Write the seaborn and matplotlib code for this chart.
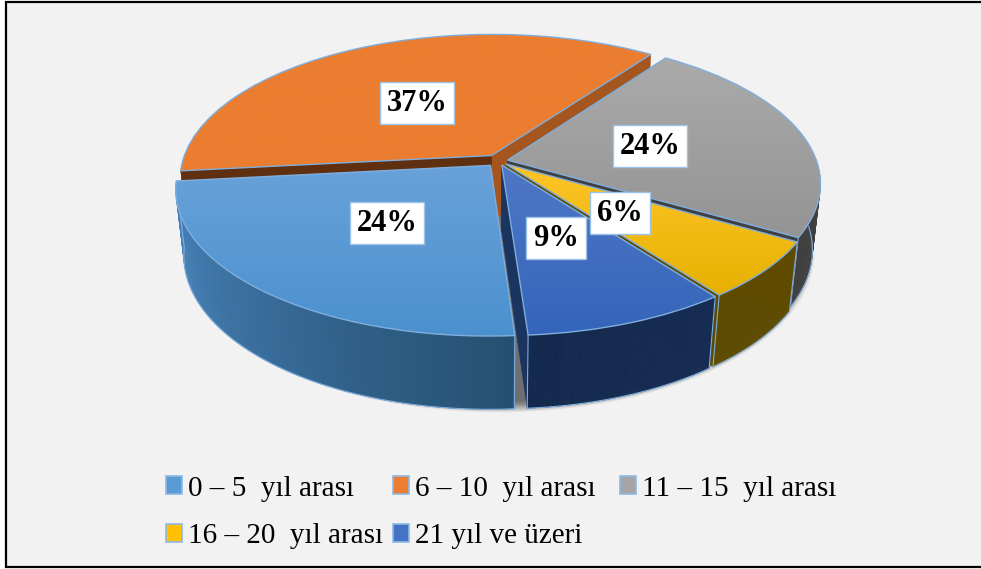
import numpy as np
import seaborn as sns
import matplotlib.pyplot as plt
from matplotlib.collections import PolyCollection
from matplotlib.patches import Patch, Rectangle
from matplotlib.transforms import Transform

# chart data, labels show them rounded
categories = ['0 – 5  yıl arası', '6 – 10  yıl arası', '11 – 15  yıl arası',
              '16 – 20  yıl arası', '21 yıl ve üzeri']
values = [24.4, 36.6, 23.5, 6.4, 9.1]
explode = [0.04, 0.045, 0.03, 0.03, 0.03]

# colours
legend_colors = ['#5B9BD5', '#ED7D31', '#A5A5A5', '#FFC000', '#4472C4']
top_colors = [('#6AA2DA', '#4A90CE'), ('#EB7D30', '#EB7D30'), ('#ABABAB', '#939393'),
              ('#FFC62A', '#E6B000'), ('#5078C6', '#3364BA')]
wall_colors = [('#4C88C2', '#244F70'), ('#A5561F', '#5F2F10'), ('#3F3F3F', '#3F3F3F'),
               ('#5E4B00', '#5E4B00'), ('#14294E', '#172C52')]
cut_colors = [('#2D5A80', '#2D5A80'), ('#A5561F', '#5F2F10'), ('#404040', '#404040'),
              ('#5E4B00', '#5E4B00'), ('#1B3560', '#1B3560')]
label_pos = [(387, 223), (417, 103), (650, 146), (620, 213), (556, 238)]
draw_order = [1, 2, 3, 4, 0]
edge_color = '#7FAEDD'

sns.set_theme(style='white')
plt.rcParams['font.family'] = ['Liberation Serif', 'DejaVu Sans']


class Persp(Transform):
    """Perspective view of the pie disc, output is in image pixels."""
    input_dims = 2
    output_dims = 2

    def __init__(self, z=0.0):
        super().__init__()
        self.z = z

    def transform_non_affine(self, xy):
        xy = np.asarray(xy, dtype=float)
        w = 1 + 0.159 * xy[:, 1] + 0.025 * self.z
        px = 498.5 + 309 * xy[:, 0] / w
        py = 161 - 142 * (xy[:, 1] - 0.475 * self.z) / w
        return np.column_stack([px, py])


top = Persp(0.0)
bottom = Persp(1.0)

fig, ax = plt.subplots(figsize=(9.81, 5.69), dpi=100)
fig.patch.set_facecolor('white')
ax.set_position([0, 0, 1, 1])

wedges, _ = ax.pie(values, explode=explode, colors=legend_colors, startangle=274,
                   counterclock=False, radius=1)
ax.set_aspect('auto')
ax.set_xlim(0, 981)
ax.set_ylim(569, 0)
ax.set_axis_off()

ax.add_patch(Rectangle((5.5, 2), 990, 565, facecolor='#F2F2F2', edgecolor='black', lw=1.6, zorder=0))


def rim(w, n=60):
    t = np.radians(np.linspace(w.theta1, w.theta2, n))
    cx, cy = w.center
    return t, np.column_stack([cx + w.r * np.cos(t), cy + w.r * np.sin(t)])


# soft shadow under the disc
shadow = Persp(1.03)
t = np.radians(np.linspace(0, 360, 240))
for grow in np.linspace(1.035, 0.985, 14):
    ring = np.column_stack([grow * np.cos(t), grow * np.sin(t)])
    ax.fill(*shadow.transform(ring).T, color='black', alpha=0.05, lw=0, zorder=1)

for rank, idx in enumerate(draw_order):
    w = wedges[idx]
    z = 10 + rank * 10
    center = np.array([w.center])

    # flat cut faces
    angles, pts = rim(w)
    for end, col in zip([pts[:1], pts[-1:]], cut_colors[idx]):
        quad = np.vstack([top.transform(center), top.transform(end),
                          bottom.transform(end), bottom.transform(center)])
        ax.fill(*quad.T, color=col, lw=0.4, zorder=z)

    # outer wall, only the part that faces the viewer, shaded along the arc
    up = top.transform(pts)
    down = bottom.transform(pts)
    shades = sns.blend_palette(wall_colors[idx], n_colors=len(pts))
    front = np.sin(angles) < 0.02
    quads = [np.vstack([up[i], up[i + 1], down[i + 1], down[i]])
             for i in range(len(pts) - 1) if front[i]]
    quad_colors = [shades[i] for i in range(len(pts) - 1) if front[i]]
    ax.add_collection(PolyCollection(quads, facecolors=quad_colors, edgecolors=quad_colors,
                                     lw=0.4, zorder=z + 1))
    if idx != 1:
        ax.plot(*down[front].T, color=edge_color, lw=0.8, zorder=z + 2)
        for k in (0, -1):
            if front[k]:
                ax.plot([up[k, 0], down[k, 0]], [up[k, 1], down[k, 1]], color=edge_color,
                        lw=0.8, zorder=z + 2)

    # top face: gradient clipped to the projected wedge
    w.set_transform(top + ax.transData)
    box = top.transform_path(w.get_patch_transform().transform_path(w.get_path())).get_extents()
    cmap = sns.blend_palette(top_colors[idx], as_cmap=True)
    grad = np.linspace(0, 1, 256).reshape(-1, 1)
    im = ax.imshow(grad, cmap=cmap, aspect='auto', extent=(box.x0 - 5, box.x1 + 5, box.y1 + 5, box.y0 - 5),
                   zorder=z + 3)
    im.set_clip_path(w)
    w.set_facecolor('none')
    w.set_edgecolor(edge_color)
    w.set_linewidth(1.0)
    w.set_zorder(z + 4)

ax.set_xlim(0, 981)
ax.set_ylim(569, 0)

# percentage labels
for idx, (x, y) in enumerate(label_pos):
    ax.text(x, y, f'{values[idx]:.0f}%', ha='center', va='center', fontsize=22, fontweight='bold',
            color='black', zorder=100,
            bbox=dict(boxstyle='square,pad=0.22', facecolor='white', edgecolor='#9DC3E6', lw=1))

# legend, one block per column
handles = [Patch(facecolor=c, edgecolor='#8DB9E6', lw=1.2) for c in legend_colors]
columns = [([0, 3], 166), ([1, 4], 393), ([2], 620)]
for members, x in columns:
    fig.legend([handles[i] for i in members], [categories[i] for i in members],
               loc='upper left', bbox_to_anchor=(x / 981, 1 - 475.5 / 569), frameon=False,
               fontsize=21, handlelength=0.55, handleheight=0.55, handletextpad=0.2,
               labelspacing=0.75, borderpad=0, borderaxespad=0, labelcolor='black')

fig.savefig('out.png', dpi=100, facecolor=fig.get_facecolor())
